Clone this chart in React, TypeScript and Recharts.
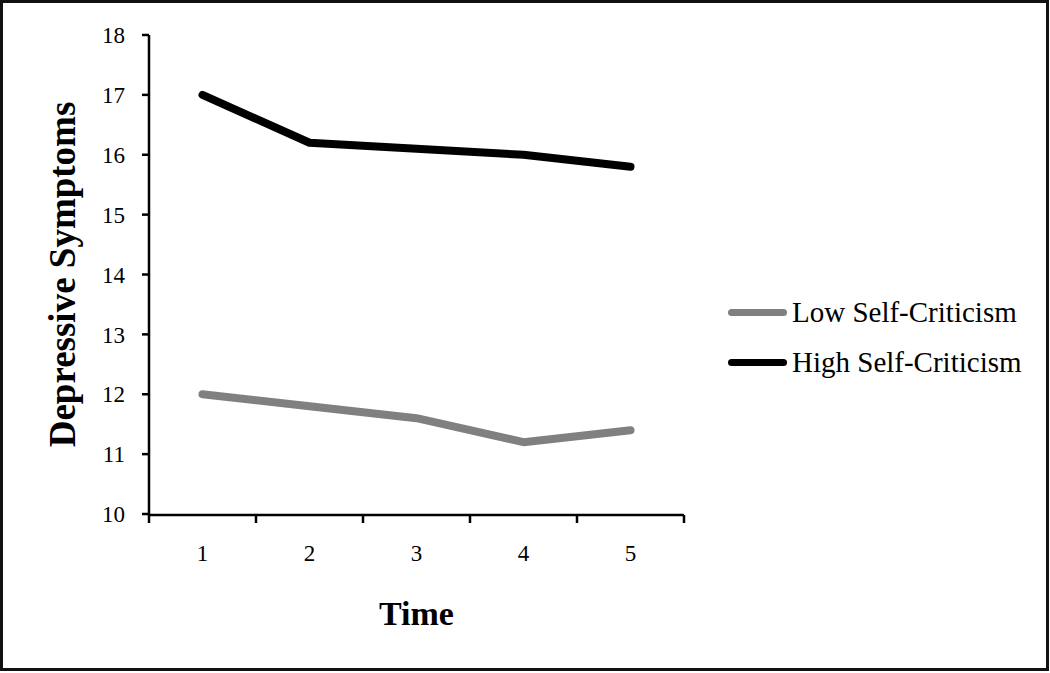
import { LineChart, Line, XAxis, YAxis, Label } from 'recharts';

const times = [1, 2, 3, 4, 5];
const lowSelfCriticism = [12, 11.8, 11.6, 11.2, 11.4];
const highSelfCriticism = [17, 16.2, 16.1, 16.0, 15.8];
const yTicks = [10, 11, 12, 13, 14, 15, 16, 17, 18];
const boundaryTicks = [0.5, 1.5, 2.5, 3.5, 4.5, 5.5];

const data = times.map((t, i) => ({
  time: t,
  low: lowSelfCriticism[i],
  high: highSelfCriticism[i],
}));

const font = '"Liberation Serif", "Times New Roman", serif';

const legendItems = [
  { name: 'Low Self-Criticism', color: '#808080' },
  { name: 'High Self-Criticism', color: '#000000' },
];

export default function App() {
  return (
    <div style={{ position: 'absolute', left: 0, top: 0, width: 1050, height: 673, background: '#fff' }}>
      <div
        style={{
          position: 'absolute',
          left: 0,
          top: 0,
          width: 1049,
          height: 671,
          boxSizing: 'border-box',
          border: '3px solid #111',
        }}
      />
      <LineChart
        width={1050}
        height={673}
        data={data}
        margin={{ top: 35, right: 366, bottom: 129, left: 89 }}
        style={{ position: 'absolute', left: 0, top: 0 }}
      >
        {/* labels axis sits right on the plot edge, the second one only draws the boundary ticks */}
        <XAxis
          dataKey="time"
          type="number"
          domain={[0.5, 5.5]}
          ticks={times}
          axisLine={false}
          tickLine={false}
          tickSize={0}
          tickMargin={31}
          height={1}
          fontSize={23}
          tick={{ fill: '#000', fontSize: 23, fontFamily: font }}
        >
          <Label
            value="Time"
            position="insideBottom"
            offset={-110}
            style={{ fontFamily: font, fontSize: 34, fontWeight: 'bold', fill: '#000' }}
          />
        </XAxis>
        <XAxis
          xAxisId="grid"
          dataKey="time"
          type="number"
          domain={[0.5, 5.5]}
          ticks={boundaryTicks}
          tickFormatter={() => ''}
          height={29}
          stroke="#000"
          strokeWidth={2.5}
          tickSize={8}
        />
        <YAxis
          domain={[10, 18]}
          ticks={yTicks}
          width={60}
          stroke="#000"
          strokeWidth={2.5}
          tickSize={7}
          tickMargin={17}
          fontSize={23}
          tick={{ fill: '#000', fontSize: 23, fontFamily: font }}
        >
          <Label
            value="Depressive Symptoms"
            angle={-90}
            position="center"
            dx={-57}
            style={{ fontFamily: font, fontSize: 37, fontWeight: 'bold', fill: '#000', textAnchor: 'middle' }}
          />
        </YAxis>
        <Line
          dataKey="low"
          stroke="#808080"
          strokeWidth={8}
          strokeLinecap="round"
          strokeLinejoin="round"
          dot={false}
          isAnimationActive={false}
        />
        <Line
          dataKey="high"
          stroke="#000000"
          strokeWidth={8}
          strokeLinecap="round"
          strokeLinejoin="round"
          dot={false}
          isAnimationActive={false}
        />
      </LineChart>
      <div style={{ position: 'absolute', left: 728, top: 287, fontFamily: font, fontSize: 29, color: '#000' }}>
        {legendItems.map((item) => (
          <div key={item.name} style={{ display: 'flex', alignItems: 'center', height: 50, whiteSpace: 'nowrap' }}>
            <div style={{ width: 59, height: 7, borderRadius: 4, background: item.color, marginRight: 5 }} />
            <span>{item.name}</span>
          </div>
        ))}
      </div>
    </div>
  );
}
